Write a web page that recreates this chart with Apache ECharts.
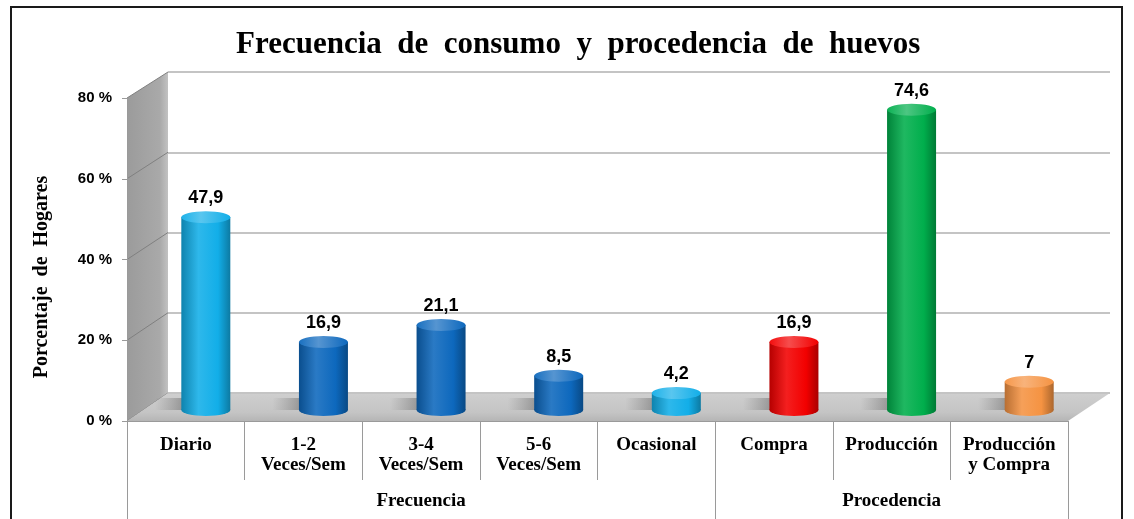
<!DOCTYPE html>
<html>
<head>
<meta charset="utf-8">
<script src="https://cdn.jsdelivr.net/npm/echarts@6/dist/echarts.min.js"></script>
<style>
  html, body { margin: 0; padding: 0; background: #fff; }
  #chart { width: 1134px; height: 519px; }
</style>
</head>
<body>
<div id="chart"></div>
<script>
// datos
var categories = ['Diario', '1-2\nVeces/Sem', '3-4\nVeces/Sem', '5-6\nVeces/Sem', 'Ocasional', 'Compra', 'Producción', 'Producción\ny Compra'];
var values = [47.9, 16.9, 21.1, 8.5, 4.2, 16.9, 74.6, 7];
var groupNames = ['Frecuencia', 'Procedencia'];
var groupSizes = [5, 3];
var yTicks = [0, 20, 40, 60, 80];
var barColors = ['#12aee8', '#0d68bd', '#0d68bd', '#0d68bd', '#12aee8', '#f20000', '#00ae4c', '#f59342'];

// plano frontal, pared del fondo, plano de las barras
var FRONT = { left: 127, right: 1068, top: 98, bottom: 421 };
var BACK = { left: 168, right: 1110, top: 72, bottom: 393 };
var MID = { left: 147, right: 1088, top: 88, bottom: 410 };
var W = 1134, H = 519;

function gridOf(p) {
  return { left: p.left, top: p.top, width: p.right - p.left, height: p.bottom - p.top, outerBoundsMode: 'none', containLabel: false };
}

function shade(hex, f) {
  var n = parseInt(hex.slice(1), 16);
  var r = (n >> 16) & 255, g = (n >> 8) & 255, b = n & 255;
  function c(v) { return Math.max(0, Math.min(255, Math.round(f < 0 ? v * (1 + f) : v + (255 - v) * f))); }
  return 'rgb(' + c(r) + ',' + c(g) + ',' + c(b) + ')';
}
function bodyGrad(hex) {
  return new echarts.graphic.LinearGradient(0, 0, 1, 0, [
    { offset: 0, color: shade(hex, -0.25) },
    { offset: 0.35, color: shade(hex, 0.12) },
    { offset: 0.75, color: hex },
    { offset: 1, color: shade(hex, -0.3) }
  ]);
}
function topGrad(hex) {
  return new echarts.graphic.LinearGradient(0, 0, 1, 0, [
    { offset: 0, color: shade(hex, 0.05) },
    { offset: 0.4, color: shade(hex, 0.3) },
    { offset: 1, color: shade(hex, 0.0) }
  ]);
}

// etiquetas del segundo nivel
var groupLabels = categories.map(function () { return ''; });
var groupEdges = [0];
var s = 0;
groupSizes.forEach(function (n, i) {
  groupLabels[s + Math.floor((n - 1) / 2)] = groupNames[i];
  s += n;
  groupEdges.push(s);
});

var serif = '"Liberation Serif", "Times New Roman", serif';
var sans = '"Liberation Sans", Arial, sans-serif';

var chart = echarts.init(document.getElementById('chart'));

var option = {
  backgroundColor: '#fff',
  animation: false,
  title: {
    text: 'Frecuencia  de  consumo  y  procedencia  de  huevos',
    left: 231,
    top: 24,
    textStyle: { fontFamily: serif, fontWeight: 'bold', fontSize: 31, color: '#000' }
  },
  grid: [gridOf(FRONT), gridOf(BACK), gridOf(MID)],
  xAxis: [
    {
      type: 'category', gridIndex: 0, data: categories,
      axisLine: { show: true, lineStyle: { color: '#9a9a9a', width: 1 } },
      axisTick: { show: true, length: 59, lineStyle: { color: '#9a9a9a' } },
      axisLabel: {
        interval: 0, margin: 14, color: '#000', fontFamily: serif, fontWeight: 'bold',
        fontSize: 19, lineHeight: 20, verticalAlign: 'top'
      },
      splitLine: { show: false }
    },
    {
      type: 'category', gridIndex: 0, data: groupLabels, position: 'bottom', offset: 59,
      axisLine: { show: false },
      axisTick: {
        show: true, length: 45, lineStyle: { color: '#9a9a9a' },
        interval: function (i) { return groupEdges.indexOf(i) >= 0; }
      },
      axisLabel: {
        interval: 0, margin: 12, color: '#000', fontFamily: serif, fontWeight: 'bold', fontSize: 19
      }
    },
    { type: 'category', gridIndex: 1, data: categories, show: false },
    { type: 'category', gridIndex: 2, data: categories, show: false }
  ],
  yAxis: [
    {
      type: 'value', gridIndex: 0, min: 0, max: 80, interval: 20,
      name: 'Porcentaje  de  Hogares', nameLocation: 'middle', nameGap: 75,
      nameTextStyle: { fontFamily: serif, fontWeight: 'bold', fontSize: 20, color: '#000', padding: [0, 0, 0, -35] },
      axisLine: { show: true, lineStyle: { color: '#9a9a9a' } },
      axisTick: { show: true, length: 5, lineStyle: { color: '#9a9a9a' } },
      axisLabel: { margin: 15, color: '#000', fontFamily: sans, fontWeight: 'bold', fontSize: 15, formatter: '{value} %' },
      splitLine: { show: false }
    },
    {
      type: 'value', gridIndex: 1, min: 0, max: 80, interval: 20,
      axisLine: { show: false }, axisTick: { show: false }, axisLabel: { show: false },
      splitLine: { show: true, lineStyle: { color: '#c4c4c4', width: 2 } }
    },
    { type: 'value', gridIndex: 2, min: 0, max: 80, interval: 20, show: false, splitLine: { show: false } }
  ],
  series: [
    {
      // sombra en el piso
      type: 'pictorialBar', xAxisIndex: 3, yAxisIndex: 2, z: 3,
      symbol: 'rect', symbolSize: [62, 12], symbolOffset: [-20, 0], symbolPosition: 'start',
      data: values.map(function (v) {
        return {
          value: v,
          itemStyle: {
            color: new echarts.graphic.LinearGradient(0, 0, 1, 0, [
              { offset: 0, color: 'rgba(90,90,90,0)' },
              { offset: 0.7, color: 'rgba(60,60,60,0.6)' },
              { offset: 1, color: 'rgba(50,50,50,0.75)' }
            ])
          }
        };
      }),
      silent: true
    },
    {
      type: 'bar', xAxisIndex: 3, yAxisIndex: 2, z: 5, barWidth: 49,
      data: values.map(function (v, i) {
        return { value: v, itemStyle: { color: bodyGrad(barColors[i]) } };
      }),
      silent: true
    },
    {
      type: 'pictorialBar', xAxisIndex: 3, yAxisIndex: 2, z: 4,
      symbol: 'circle', symbolSize: [49, 12], symbolOffset: [0, '50%'], symbolPosition: 'start',
      data: values.map(function (v, i) {
        return { value: v, itemStyle: { color: bodyGrad(barColors[i]) } };
      }),
      silent: true
    },
    {
      type: 'pictorialBar', xAxisIndex: 3, yAxisIndex: 2, z: 6,
      symbol: 'circle', symbolSize: [49, 12], symbolOffset: [0, '-50%'], symbolPosition: 'end',
      data: values.map(function (v, i) {
        return { value: v, itemStyle: { color: topGrad(barColors[i]) } };
      }),
      label: {
        show: true, position: 'top', distance: 4, color: '#000',
        fontFamily: sans, fontWeight: 'bold', fontSize: 18,
        formatter: function (p) { return String(p.value).replace('.', ','); }
      },
      silent: true
    }
  ]
};
chart.setOption(option);

// paredes y piso a partir de los ejes
function fy(v) { return chart.convertToPixel({ yAxisIndex: 0 }, v); }
function by(v) { return chart.convertToPixel({ yAxisIndex: 1 }, v); }

var elements = [];
elements.push({
  type: 'polygon', z: -10,
  shape: { points: [[FRONT.left, fy(80)], [BACK.left, by(80)], [BACK.left, by(0)], [FRONT.left, fy(0)]] },
  style: {
    fill: new echarts.graphic.LinearGradient(0, 0, 1, 0, [
      { offset: 0, color: '#9b9b9b' }, { offset: 0.8, color: '#a9a9a9' }, { offset: 1, color: '#c2c2c2' }
    ])
  }
});
yTicks.forEach(function (t) {
  elements.push({
    type: 'line', z: -9,
    shape: { x1: FRONT.left, y1: fy(t), x2: BACK.left, y2: by(t) },
    style: { stroke: '#808080', lineWidth: 1 }
  });
});
elements.push({
  type: 'polygon', z: -8,
  shape: { points: [[FRONT.left, fy(0)], [BACK.left, by(0)], [BACK.right, by(0)], [FRONT.right, fy(0)]] },
  style: {
    fill: new echarts.graphic.LinearGradient(0, 0, 0, 1, [
      { offset: 0, color: '#cfcfcf' }, { offset: 0.7, color: '#c4c4c4' }, { offset: 1, color: '#b5b5b5' }
    ])
  }
});
elements.push({
  type: 'rect', z: 20, silent: true,
  shape: { x: 11, y: 7, width: 1111, height: H + 20 },
  style: { fill: 'none', stroke: '#1a1a1a', lineWidth: 2 }
});
chart.setOption({ graphic: { elements: elements } });
</script>
</body>
</html>
